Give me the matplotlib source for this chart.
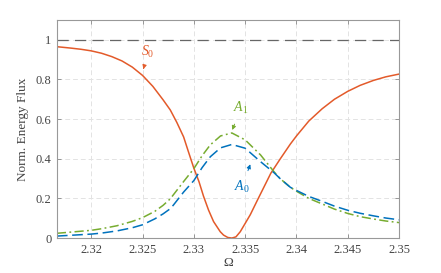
import matplotlib.pyplot as plt

plt.rcParams['font.family'] = ['Liberation Serif', 'DejaVu Serif']
plt.rcParams['mathtext.fontset'] = 'custom'
plt.rcParams['mathtext.rm'] = 'Liberation Serif'
plt.rcParams['mathtext.it'] = 'Liberation Serif:italic'

# values
om_s0 = [2.31665, 2.318, 2.319, 2.32, 2.321, 2.322, 2.323, 2.324, 2.325,
         2.326, 2.327, 2.3277, 2.32834, 2.329, 2.32947, 2.33, 2.3305, 2.33094,
         2.33143, 2.33192, 2.33257, 2.33289, 2.3333, 2.3337, 2.3341, 2.33452,
         2.335, 2.3355, 2.3362, 2.337, 2.3375, 2.3384, 2.3394, 2.34, 2.3412,
         2.3425, 2.3437, 2.345, 2.3462, 2.3475, 2.3487, 2.35]
s0 = [0.965, 0.958, 0.952, 0.944, 0.932, 0.915, 0.893, 0.862, 0.82,
      0.765, 0.697, 0.646, 0.583, 0.51, 0.435, 0.352, 0.284, 0.211,
      0.141, 0.083, 0.032, 0.015, 0.003, 0.0, 0.006, 0.032,
      0.074, 0.118, 0.192, 0.275, 0.327, 0.398, 0.474, 0.515, 0.59,
      0.652, 0.7, 0.74, 0.77, 0.795, 0.813, 0.827]

om_a = [2.31665, 2.318, 2.32, 2.321, 2.3225, 2.324, 2.325, 2.3262, 2.327,
        2.3277, 2.328, 2.329, 2.33, 2.3308, 2.3316, 2.3326, 2.3337, 2.335,
        2.3365, 2.3378, 2.3384, 2.3394, 2.34, 2.3412, 2.3425, 2.3437, 2.345,
        2.3462, 2.3475, 2.3487, 2.35]
a1 = [0.024, 0.03, 0.039, 0.047, 0.062, 0.084, 0.103, 0.135, 0.165,
      0.198, 0.218, 0.285, 0.35, 0.415, 0.47, 0.515, 0.53, 0.495,
      0.419, 0.335, 0.30, 0.256, 0.236, 0.2, 0.172, 0.146, 0.124,
      0.108, 0.096, 0.086, 0.078]
a0 = [0.01, 0.014, 0.02, 0.025, 0.036, 0.052, 0.067, 0.097, 0.122,
      0.148, 0.166, 0.232, 0.29, 0.355, 0.41, 0.455, 0.472, 0.453,
      0.385, 0.33, 0.30, 0.256, 0.24, 0.21, 0.185, 0.161, 0.14,
      0.125, 0.112, 0.101, 0.092]

red = '#E35A2A'
blue = '#0072BD'
green = '#77AC30'
txt = '#444444'

fig = plt.figure(figsize=(4.41, 2.73), dpi=100)
ax = fig.add_axes([0.129, 0.128, 0.776, 0.799])

ax.axhline(1, color='#666666', lw=0.9, dashes=(9, 5))
ax.plot(om_s0, s0, color=red, lw=1.1)
ax.plot(om_a, a1, color=green, lw=1.1, dashes=(6, 2.2, 1.2, 2.2))
ax.plot(om_a, a0, color=blue, lw=1.1, dashes=(7, 3))

arrow = dict(arrowstyle='-|>', lw=0.7, mutation_scale=6, shrinkA=4, shrinkB=0)
ax.annotate('$S_0$', xy=(2.32508, 0.852), xytext=(2.32554, 0.94), color=red,
            fontsize=10, ha='center', va='center',
            arrowprops=dict(arrow, color=red))
ax.annotate('$A_1$', xy=(2.33374, 0.545), xytext=(2.33459, 0.655), color=green,
            fontsize=10, ha='center', va='center',
            arrowprops=dict(arrow, color=green))
ax.annotate('$A_0$', xy=(2.3355, 0.372), xytext=(2.33469, 0.259), color=blue,
            fontsize=10, ha='center', va='center',
            arrowprops=dict(arrow, color=blue))

ax.set_xlim(2.31665, 2.35)
ax.set_ylim(0, 1.1)
ax.set_xticks([2.32, 2.325, 2.33, 2.335, 2.34, 2.345, 2.35])
ax.set_xticklabels(['2.32', '2.325', '2.33', '2.335', '2.34', '2.345', '2.35'])
ax.set_yticks([0, 0.2, 0.4, 0.6, 0.8, 1])
ax.set_yticklabels(['0', '0.2', '0.4', '0.6', '0.8', '1'])

ax.grid(True, color='#e3e3e3', lw=0.7, dashes=(5, 3))
ax.tick_params(direction='in', top=True, right=True, length=3, width=0.6,
               color='#888888', labelcolor=txt, labelsize=9, pad=4)
for s in ax.spines.values():
    s.set_color('#999999')
    s.set_linewidth(0.8)

ax.set_xlabel('Ω', color=txt, fontsize=9.5, labelpad=1)
ax.set_ylabel('Norm. Energy Flux', color=txt, fontsize=9.5, labelpad=5)

fig.savefig('out.png', dpi=100)
